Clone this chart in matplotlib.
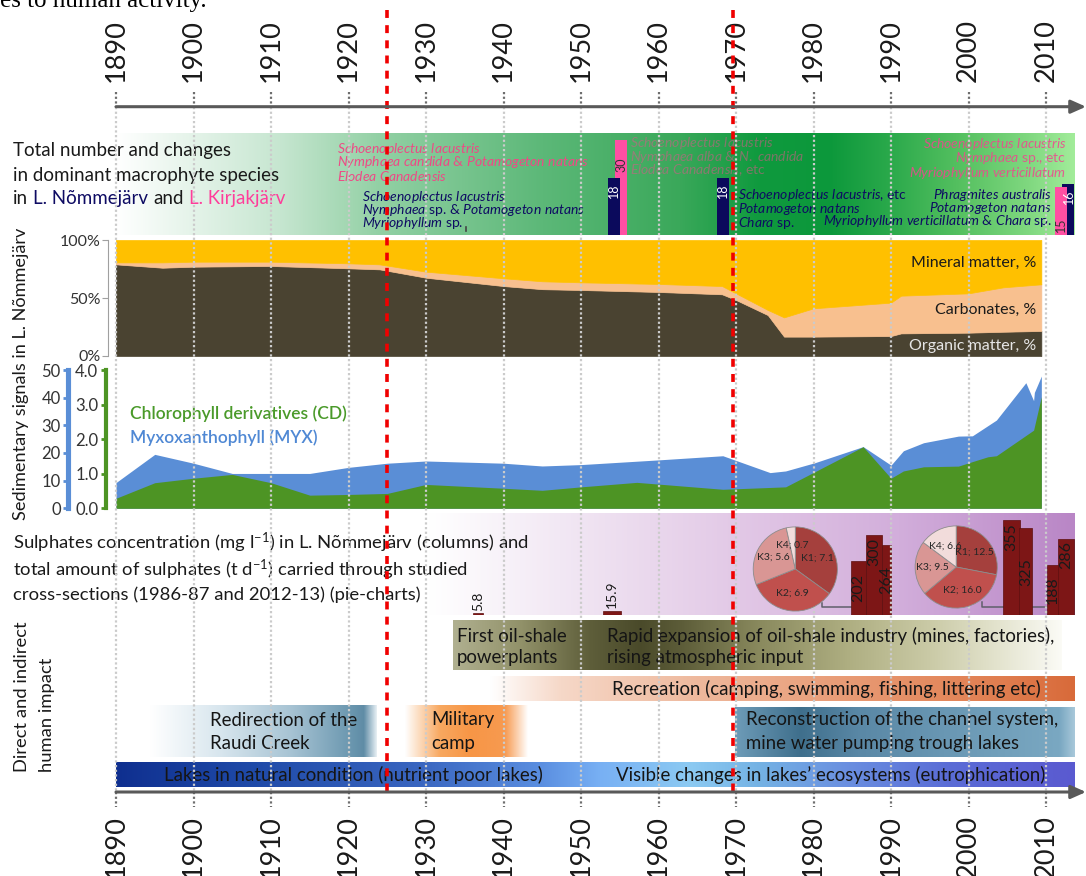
import numpy as np
import matplotlib
matplotlib.use("Agg")
import matplotlib.pyplot as plt
import matplotlib.colors as mcolors

plt.rcParams['font.family'] = ['Lato', 'DejaVu Sans']
plt.rcParams['mathtext.fontset'] = 'custom'
plt.rcParams['mathtext.rm'] = 'Lato'
plt.rcParams['mathtext.it'] = 'Lato:italic'
plt.rcParams['mathtext.bf'] = 'Lato:bold'

# ---- data ----
decades = list(range(1890, 2011, 10))
shift_years = [1925, 1969.6]

# sediment composition in L. Nommejarv, %
sed_years = [1890, 1896, 1900, 1910, 1920, 1924, 1930, 1940, 1945, 1950, 1960,
             1968.2, 1970, 1974.1, 1976.2, 1980, 1990, 1991.3, 2000, 2004.5, 2009.4]
organic = [79.0, 76.1, 77.0, 77.6, 75.6, 74.7, 67.5, 60.3, 57.6, 56.9, 55.2,
           53.2, 48.3, 35.3, 16.7, 16.7, 17.2, 19.5, 20.1, 20.9, 21.6]
carbonates = [1.7, 4.6, 4.3, 3.7, 4.3, 4.3, 5.2, 6.7, 6.8, 6.6, 6.9,
              7.1, 5.7, 4.4, 16.6, 24.4, 28.8, 32.5, 33.9, 38.3, 40.2]
mineral = [19.3, 19.3, 18.7, 18.7, 20.1, 21.0, 27.3, 33.0, 35.6, 36.5, 37.9,
           39.7, 46.0, 60.3, 66.7, 58.9, 54.0, 48.0, 46.0, 40.8, 38.2]

# sedimentary pigments
myx_years = [1890, 1895, 1900, 1905, 1910, 1915, 1920, 1925, 1930, 1940, 1945, 1950,
             1960, 1968.3, 1974.4, 1976.4, 1980.2, 1986.4, 1990, 1991.6, 1994.2,
             1998.7, 2000.5, 2003.6, 2007.4, 2008.4, 2008.5, 2009.4]
myx = [9.3, 19.5, 16.3, 12.6, 12.6, 12.6, 14.8, 16.3, 17.1, 16.3, 15.3, 15.8,
       17.5, 19.0, 12.9, 13.5, 16.5, 22.3, 15.6, 20.8, 23.7,
       26.1, 26.2, 31.9, 45.4, 38.9, 41.9, 47.8]
cd_years = [1890, 1895, 1900, 1905, 1910, 1915, 1920, 1925, 1930, 1940, 1945, 1950,
            1957.2, 1960, 1968.3, 1976.4, 1980.2, 1986.4, 1990, 1991.6, 1994.2,
            1998.7, 2000.5, 2002.5, 2003.6, 2008.4, 2009.4]
cd = [0.29, 0.74, 0.87, 0.98, 0.74, 0.38, 0.40, 0.43, 0.69, 0.58, 0.52, 0.62,
      0.75, 0.70, 0.55, 0.62, 1.06, 1.78, 0.87, 1.08, 1.20,
      1.22, 1.35, 1.49, 1.52, 2.26, 3.23]

# sulphate columns (mg/l)
sulph_years = [1936.7, 1954.0, 1985.8, 1987.8, 1989.4, 2005.55, 2007.4, 2010.9, 2012.6]
sulph_width = [1.3, 2.3, 2.0, 2.0, 1.2, 2.1, 1.7, 1.6, 2.1]
sulph_conc = [5.8, 15.9, 202, 300, 264, 355, 325, 188, 286]
sulph_label_pos = ['above', 'above', 'mid', 'top', 'mid', 'top', 'mid', 'mid', 'top']

# sulphate load through cross-sections (t/d)
pie_names = ['K1', 'K2', 'K3', 'K4']
pie_1986 = [7.1, 6.9, 5.6, 0.7]
pie_2012 = [12.5, 16.0, 9.5, 6.6]

# number of macrophyte species
nom_years = [1954.2, 1968.3, 2012.9]
nom_species = [18, 18, 16]
kir_years = [1955.2, 2011.9]
kir_species = [30, 15]

# ---- layout helpers (pixel frame of the original picture) ----
W, H = 1086, 876
X1890, PPY = 116, 7.75


def yr2px(y):
    return X1890 + (y - 1890) * PPY


def px2yr(p):
    return 1890 + (p - X1890) / PPY


fig = plt.figure(figsize=(W / 100, H / 100), dpi=100)
bg = fig.add_axes([0, 0, 1, 1])
bg.axis('off')


def panel(top, bottom):
    a = fig.add_axes([0, 1 - bottom / H, 1, (bottom - top) / H])
    a.set_xlim(px2yr(0), px2yr(W))
    a.patch.set_visible(False)
    for s in a.spines.values():
        s.set_visible(False)
    a.set_xticks([])
    return a


def gband(x0, x1, y0, y1, stops, z=1):
    xs = np.linspace(x0, x1, 600)
    rgb = np.array([mcolors.to_rgb(c) for _, c in stops])
    img = np.ones((1, xs.size, 3))
    for k in range(3):
        img[0, :, k] = np.interp(xs, [p for p, _ in stops], rgb[:, k])
    bg.imshow(img, extent=(x0, x1, y1, y0), aspect='auto',
              interpolation='bilinear', zorder=z)


def it(s):
    return r'$\mathit{' + s.replace(' ', r'\ ') + '}$'


NAVY = '#0e0b63'
PINK = '#ff3d9a'
TXT = '#1a1a1a'

# caption remnant at the very top
bg.text(0, 6.5, 'es to human activity.', family=['Liberation Serif'], fontsize=18,
        va='baseline', ha='left', color='black')

# year labels
for y in decades:
    bg.text(yr2px(y), 82, str(y), rotation=90, ha='center', va='bottom', fontsize=19.5, color=TXT)
    bg.text(yr2px(y), 815, str(y), rotation=90, ha='center', va='top', fontsize=19.5, color=TXT)

# ---- macrophyte band ----
gband(0, 1075, 133.3, 235, [(0, '#ffffff'), (116, '#ffffff'), (280, '#c6e6d0'), (380, '#92d0a4'),
                            (543, '#5cb878'), (680, '#3aa85a'), (760, '#0f9a3e'), (830, '#0c983b'),
                            (890, '#2aa94b'), (960, '#55c060'), (1030, '#80d880'), (1075, '#a2ec9a')])
hs = 13.5
bg.text(13, 150.7, 'Total number and changes', fontsize=hs, va='center', color=TXT)
bg.text(13, 175, 'in dominant macrophyte species', fontsize=hs, va='center', color=TXT)
t = bg.text(13, 198.3, 'in', fontsize=hs, va='center', color=TXT)
for s, c in [('L. Nõmmejärv', NAVY), ('and', TXT), ('L. Kirjakjärv', PINK)]:
    t = bg.annotate(s, xy=(1, 0), xycoords=t, xytext=(3.6, 0), textcoords='offset points',
                    va='bottom', fontsize=hs, color=c)

fs_sp = 10
pink_1925 = [it('Schoenoplectus lacustris'),
             it('Nymphaea candida') + ' & ' + it('Potamogeton natans'),
             it('Elodea Canadensis')]
navy_1925 = [it('Schoenoplectus lacustris'),
             it('Nymphaea') + ' sp. & ' + it('Potamogeton natans'),
             it('Myriophyllum') + ' sp.']
pink_1970 = [it('Schoenoplectus lacustris'),
             it('Nymphaea alba') + ' & ' + it('N. candida'),
             it('Elodea Canadensis') + ', etc']
navy_1970 = [it('Schoenoplectus lacustris') + ', etc',
             it('Potamogeton natans'),
             it('Chara') + ' sp.']
pink_2010 = [it('Schoenoplectus lacustris'),
             it('Nymphaea') + ' sp., etc',
             it('Myriophyllum verticillatum')]
navy_2010 = [it('Phragmites australis'),
             it('Potamogeton natans'),
             it('Myriophyllum verticillatum') + ' & ' + it('Chara') + ' sp.']

for lines, x, ys, c, ha, al in [
        (pink_1925, 337, [149, 162.3, 175.7], '#ee4a86', 'left', 1),
        (navy_1925, 362, [196.7, 210, 222.7], NAVY, 'left', 1),
        (pink_1970, 630, [143.3, 156.7, 170], '#d8588a', 'left', 0.55),
        (navy_1970, 738, [195, 209.3, 223.3], NAVY, 'left', 1),
        (pink_2010, 1066, [144, 158.3, 172.7], '#f0468f', 'right', 0.85),
        (navy_2010, 1052, [195, 208.3, 220.7], NAVY, 'right', 1)]:
    for s, yy in zip(lines, ys):
        bg.text(x, yy, s, fontsize=fs_sp, color=c, alpha=al, ha=ha, va='center', zorder=4)
bg.plot([466, 466], [226.7, 231], color='#444444', lw=1.2, zorder=4)

axm = panel(133.3, 235)
axm.set_ylim(0, (235 - 133.3) / 3.18)
axm.set_yticks([])
bk = axm.bar(kir_years, kir_species, width=1.5, color='#ff4fa3', zorder=2)
bn = axm.bar(nom_years, nom_species, width=1.55, color='#0b0a5c', zorder=3)
bk[-1].set_zorder(4)
for x, v in zip(nom_years, nom_species):
    axm.annotate(str(v), (x, v), xytext=(0, -4), textcoords='offset points', rotation=90,
                 ha='center', va='top', fontsize=9, color='white', zorder=5)
axm.annotate(str(kir_species[0]), (kir_years[0], kir_species[0]), xytext=(0, -13),
             textcoords='offset points', rotation=90, ha='center', va='top', fontsize=9,
             color='#333333', zorder=5)
axm.annotate(str(kir_species[1]), (kir_years[1], 0), xytext=(0, 2), textcoords='offset points',
             rotation=90, ha='center', va='bottom', fontsize=9, color='#333333', zorder=5)

# ---- sediment composition ----
bg.text(21.5, 520, 'Sedimentary signals in L. Nõmmejärv', rotation=90, ha='center', va='bottom',
        fontsize=13.1, color=TXT)
axc = panel(240, 356)
axc.set_ylim(0, 100)
axc.stackplot(sed_years, organic, carbonates, mineral,
              colors=['#4a4331', '#f8c08f', '#ffc000'], lw=0.5, edgecolor='face')
axc.spines['left'].set_visible(True)
axc.spines['left'].set_position(('data', px2yr(108)))
axc.spines['left'].set_color('#a0a0a0')
axc.set_yticks([0, 50, 100])
axc.set_yticklabels(['0%', '50%', '100%'])
axc.tick_params(axis='y', length=4, color='#a0a0a0', labelsize=11.5, labelcolor='#333333', pad=1.5)
for s, yy, c in [('Mineral matter, %', 263.3, TXT), ('Carbonates, %', 310, TXT),
                 ('Organic matter, %', 346, '#e6e6e6')]:
    axc.text(1036, yy, s, transform=bg.transData, ha='right', va='center', fontsize=11.5, color=c)

# ---- pigments ----
BLUE = '#5a8ed6'
GREEN = '#4d9424'
axb = panel(370, 508.3)
axb.set_ylim(0, 50)
axb.fill_between(myx_years, myx, color=BLUE, lw=0)
axb.spines['left'].set_visible(True)
axb.spines['left'].set_position(('data', px2yr(68.4)))
axb.spines['left'].set_color(BLUE)
axb.spines['left'].set_linewidth(3.7)
axb.set_yticks(range(0, 51, 10))
axb.tick_params(axis='y', length=3.5, width=2, color=BLUE, labelsize=12, labelcolor='#333333', pad=2)

axg = axb.twinx()
axg.set_ylim(0, 4)
axg.fill_between(cd_years, cd, color=GREEN, lw=0)
for s in axg.spines.values():
    s.set_visible(False)
axg.yaxis.tick_left()
axg.spines['left'].set_visible(True)
axg.spines['left'].set_position(('data', px2yr(106)))
axg.spines['left'].set_color(GREEN)
axg.spines['left'].set_linewidth(3)
axg.set_yticks([0, 1, 2, 3, 4])
axg.set_yticklabels(['0.0', '1.0', '2.0', '3.0', '4.0'])
axg.tick_params(axis='y', length=3.5, width=2, color=GREEN, labelsize=12, labelcolor='#333333', pad=2)

bg.text(130, 413.3, 'Chlorophyll derivatives (CD)', fontsize=12.5, fontweight='semibold',
        color='#4a9a2a', va='center')
bg.text(130, 437.3, 'Myxoxanthophyll (MYX)', fontsize=12.5, fontweight='semibold',
        color='#4f88d4', va='center')

# ---- sulphates ----
gband(0, 1075, 513.3, 615, [(0, '#ffffff'), (430, '#ffffff'), (560, '#f2e8f4'), (740, '#e2c8e6'),
                            (900, '#d2aedb'), (1075, '#b986c6')])
fsu = 13.3
bg.text(13, 543.3, 'Sulphates concentration (mg l$^{-1}$) in L. Nõmmejärv (columns) and',
        fontsize=fsu, va='center', color=TXT, zorder=3)
bg.text(13, 570, 'total amount of sulphates (t d$^{-1}$) carried through studied',
        fontsize=fsu, va='center', color=TXT, zorder=3)
bg.text(13, 595, 'cross-sections (1986-87 and 2012-13) (pie-charts)',
        fontsize=fsu, va='center', color=TXT, zorder=3)
for xs_, ys_ in [([821.7, 821.7, 879, 879], [603, 607.3, 607.3, 603]),
                 ([982, 982, 1067.6, 1067.6], [601.7, 607.3, 607.3, 601])]:
    bg.plot(xs_, ys_, color='#5f5f6a', lw=1.1, zorder=3)

axs = panel(513.3, 615)
axs.set_ylim(0, (615 - 513.3) / 0.267)
axs.set_yticks([])
axs.bar(sulph_years, sulph_conc, width=sulph_width, color='#7d1616', edgecolor='#5c0f0f', lw=0.5)
for x, v, pos in zip(sulph_years, sulph_conc, sulph_label_pos):
    lab = ('%g' % v)
    if pos == 'above':
        axs.annotate(lab, (x, v), xytext=(0, 2), textcoords='offset points', rotation=90,
                     ha='center', va='bottom', fontsize=10, color=TXT)
    elif pos == 'top':
        axs.annotate(lab, (x, v), xytext=(0, -2), textcoords='offset points', rotation=90,
                     ha='center', va='top', fontsize=11.5, color=TXT)
    else:
        axs.text(x, v / 2, lab, rotation=90, ha='center', va='center', fontsize=11.5, color=TXT)

# ---- human impact ----
bg.text(22.5, 772, 'Direct and indirect', rotation=90, ha='center', va='bottom', fontsize=13.2, color=TXT)
bg.text(46.7, 772, 'human impact', rotation=90, ha='center', va='bottom', fontsize=13.2, color=TXT)

gband(453, 1062, 620, 670, [(453, '#b0b090'), (520, '#92926a'), (590, '#5e5e3a'), (640, '#4a4a2a'),
                           (680, '#5c5c38'), (760, '#8a8a5e'), (850, '#afaf82'), (930, '#cacaa6'),
                           (1000, '#e4e4cf'), (1062, '#fbfbf6')])
gband(490, 1075, 676.7, 701, [(490, '#ffffff'), (560, '#f6d8c8'), (700, '#eeb89c'), (850, '#e89a74'),
                             (1000, '#e07e50'), (1075, '#d86a3a')])
gband(150, 377, 705, 756.7, [(150, '#ffffff'), (220, '#d8e6ee'), (290, '#a8c4d4'), (350, '#6c98b0'),
                            (364, '#5f8ca6'), (377, '#e8f0f4')])
gband(405, 528, 705, 756.7, [(405, '#ffffff'), (440, '#f8a860'), (470, '#f79646'), (505, '#f79a50'),
                            (528, '#ffffff')])
gband(735, 1075, 706.7, 756.7, [(735, '#6e9cb8'), (800, '#3f6f8c'), (860, '#5a88a6'), (950, '#6a98b4'),
                               (1060, '#7aa8c2'), (1075, '#a8c8da')])
gband(116, 1075, 761.7, 786.7, [(116, '#0f2f8f'), (250, '#1f4aa8'), (420, '#3a66c0'), (540, '#5a8ee0'),
                               (600, '#78b0f4'), (690, '#8ccaf2'), (760, '#74b2e4'), (850, '#6a8ee0'),
                               (950, '#5a6cd6'), (1075, '#5a5ad0')])

fi = 13.4
for x, ys_, lines in [(457, [636, 658], ['First oil-shale', 'powerplants']),
                      (607, [636, 658], ['Rapid expansion of oil-shale industry (mines, factories),',
                                         'rising atmospheric input']),
                      (209.5, [720, 743.3], ['Redirection of the', 'Raudi Creek']),
                      (431, [720, 743.3], ['Military', 'camp']),
                      (745.6, [720, 743.3], ['Reconstruction of the channel system,',
                                             'mine water pumping trough lakes']),
                      (612, [689], ['Recreation (camping, swimming, fishing, littering etc)']),
                      (164.5, [775], ['Lakes in natural condition (nutrient poor lakes)']),
                      (615.7, [775], ['Visible changes in lakes’ ecosystems (eutrophication)'])]:
    for s, yy in zip(lines, ys_):
        bg.text(x, yy, s, fontsize=fi, va='center', ha='left', color='#151515', zorder=3)

bg.set_xlim(0, W)
bg.set_ylim(H, 0)

# ---- overlay: grid, shift lines, time arrows ----
ov = fig.add_axes([0, 0, 1, 1])
ov.axis('off')
for y in decades:
    x = yr2px(y)
    ov.plot([x, x], [106.7, 792], color='#cbcbcb', lw=1.6, ls=(0, (1, 1.1)))
    ov.plot([x, x], [91.7, 106.7], color='#6e6e6e', lw=1.6, ls=(0, (1, 1.1)))
    ov.plot([x, x], [792, 807], color='#6e6e6e', lw=1.6, ls=(0, (1, 1.1)))
for y in shift_years:
    x = yr2px(y)
    ov.plot([x, x], [10, 792], color='#f00000', lw=2.6, ls=(0, (2.2, 2.0)), solid_capstyle='butt')
for yy in [106.7, 792]:
    ov.annotate('', xy=(1086, yy), xytext=(yr2px(1890), yy),
                arrowprops=dict(arrowstyle='-|>,head_length=0.9,head_width=0.4', color='#595959',
                                lw=2.2, shrinkA=0, shrinkB=0))
ov.set_xlim(0, W)
ov.set_ylim(H, 0)

# ---- pies ----
PIE_COLS = ['#a5403d', '#c0504d', '#d99694', '#f2dcdb']
for vals, cx, cy, r in [(pie_1986, 795.3, 569, 42.5), (pie_2012, 956.2, 567, 41.5)]:
    ap = fig.add_axes([(cx - r) / W, 1 - (cy + r) / H, 2 * r / W, 2 * r / H])
    labels = ['%s; %.1f' % (n, v) for n, v in zip(pie_names, vals)]
    ap.pie(vals, labels=labels, startangle=90, counterclock=False, colors=PIE_COLS,
           labeldistance=0.58, wedgeprops=dict(edgecolor='#8c8c8c', linewidth=0.6),
           textprops=dict(fontsize=7.5, color='#262626', ha='center', va='center'))
    ap.set_xlim(-1.01, 1.01)
    ap.set_ylim(-1.01, 1.01)

fig.savefig('out.png', dpi=100)
